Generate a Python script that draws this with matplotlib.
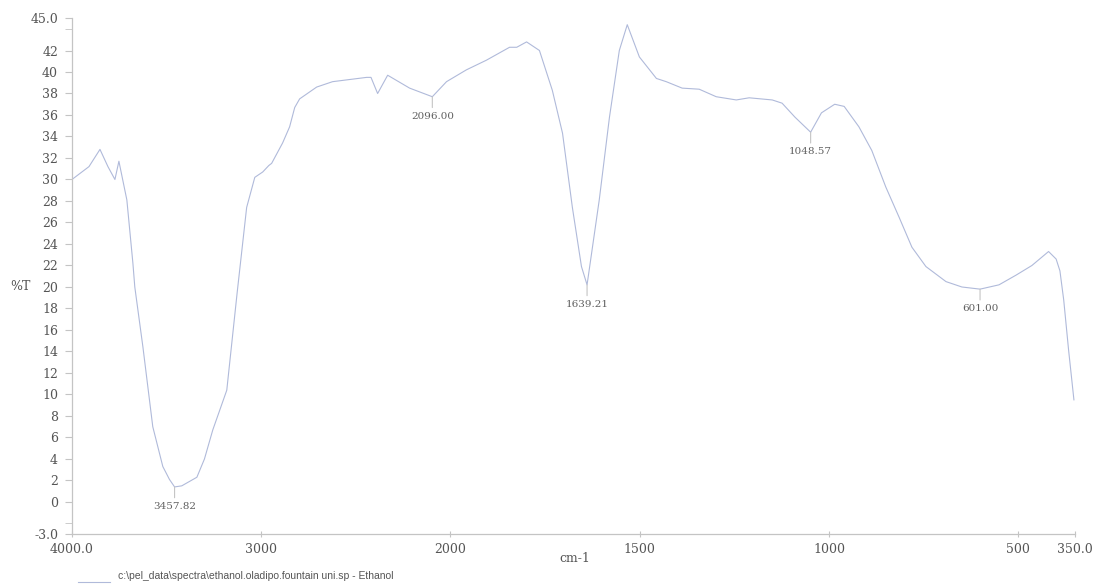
import numpy as np
import matplotlib
matplotlib.use("Agg")
import matplotlib.pyplot as plt
from matplotlib.lines import Line2D
from matplotlib.ticker import FixedLocator

# ---- data ----
wavenumber = [4000, 3910, 3852, 3810, 3773, 3752, 3710, 3678, 3668, 3625,
              3573, 3520, 3485, 3457.82, 3420, 3380, 3340, 3300, 3256, 3182,
              3127, 3077, 3034,
              2992, 2960, 2945, 2887, 2850, 2823, 2797, 2707, 2623, 2443,
              2420, 2385, 2332, 2216, 2096, 2021, 1958, 1905, 1844, 1825,
              1799, 1765, 1731, 1704, 1678, 1654, 1639.21, 1607, 1580, 1554,
              1533, 1501, 1456, 1430, 1388, 1343, 1298, 1245, 1211, 1150,
              1124, 1090, 1048.57, 1020, 985, 960, 921, 887, 850, 815,
              781, 744, 691, 649, 601, 551, 506, 464, 420, 400,
              390, 380, 367, 353]
transmittance = [30.0, 31.2, 32.8, 31.2, 30.0, 31.7, 28.1, 22.2, 20.0, 14.4,
                 7.0, 3.3, 2.1, 1.4, 1.5, 1.9, 2.3, 4.0, 6.7, 10.4,
                 19.5, 27.4, 30.2,
                 30.7, 31.3, 31.5, 33.4, 34.9, 36.7, 37.5, 38.6, 39.1, 39.5,
                 39.5, 38.0, 39.7, 38.5, 37.7, 39.1, 40.2, 41.1, 42.3, 42.3,
                 42.8, 42.0, 38.3, 34.3, 27.4, 21.9, 20.2, 28.1, 35.8, 42.0,
                 44.4, 41.4, 39.4, 39.1, 38.5, 38.4, 37.7, 37.4, 37.6, 37.4,
                 37.1, 35.8, 34.4, 36.2, 37.0, 36.8, 34.9, 32.7, 29.3, 26.5,
                 23.7, 21.9, 20.5, 20.0, 19.8, 20.2, 21.1, 22.0, 23.3, 22.6,
                 21.5, 18.8, 14.1, 9.5]

peak_positions = [3457.82, 2096.00, 1639.21, 1048.57, 601.00]
peak_values = [1.4, 37.7, 20.2, 34.4, 19.8]
peak_labels = ["3457.82", "2096.00", "1639.21", "1048.57", "601.00"]

x_ticks = [4000, 3000, 2000, 1500, 1000, 500, 350]
x_tick_labels = ["4000.0", "3000", "2000", "1500", "1000", "500", "350.0"]
y_ticks = [45, 42, 40, 38, 36, 34, 32, 30, 28, 26, 24, 22, 20, 18, 16, 14,
           12, 10, 8, 6, 4, 2, 0, -3]
y_tick_labels = ["45.0", "42", "40", "38", "36", "34", "32", "30", "28", "26",
                 "24", "22", "20", "18", "16", "14", "12", "10", "8", "6",
                 "4", "2", "0", "-3.0"]
y_minor_ticks = [44, -2]

footer = r"c:\pel_data\spectra\ethanol.oladipo.fountain uni.sp - Ethanol"

# ---- style ----
curve_color = "#b0bada"
axis_color = "#c4c4c4"
text_color = "#555555"
serif = "DejaVu Serif"


def fwd(x):
    x = np.asarray(x, dtype=float)
    return np.where(x >= 2000, x, 2.0 * x - 2000.0)


def inv(y):
    y = np.asarray(y, dtype=float)
    return np.where(y >= 2000, y, (y + 2000.0) / 2.0)


fig = plt.figure(figsize=(10.97, 5.85), dpi=100)
ax = fig.add_axes([0.0656, 0.0868, 0.9144, 0.882])
ax.set_xscale("function", functions=(fwd, inv))
ax.plot(wavenumber, transmittance, color=curve_color, lw=0.8)
ax.set_xlim(4000, 350)
ax.set_ylim(-3, 45)

for s in ["top", "right"]:
    ax.spines[s].set_visible(False)
for s in ["left", "bottom"]:
    ax.spines[s].set_color(axis_color)
    ax.spines[s].set_linewidth(0.9)

ax.xaxis.set_major_locator(FixedLocator(x_ticks))
ax.set_xticklabels(x_tick_labels, fontfamily=serif, fontsize=9, color=text_color)
ax.xaxis.set_minor_locator(FixedLocator([]))
ax.tick_params(axis="x", which="major", direction="inout", length=5,
               color=axis_color, pad=4)

ax.yaxis.set_major_locator(FixedLocator(y_ticks))
ax.set_yticklabels(y_tick_labels, fontfamily=serif, fontsize=9, color=text_color)
ax.yaxis.set_minor_locator(FixedLocator(y_minor_ticks))
ax.tick_params(axis="y", which="major", direction="out", length=5,
               color=axis_color, pad=5)
ax.tick_params(axis="y", which="minor", direction="out", length=5,
               color=axis_color)

for px, pv, lab in zip(peak_positions, peak_values, peak_labels):
    ax.annotate(lab, xy=(px, pv), xytext=(0, -15), textcoords="offset pixels",
                ha="center", va="top", fontfamily=serif, fontsize=7.5,
                color="#606060",
                arrowprops=dict(arrowstyle="-", color=axis_color, lw=0.8,
                                shrinkA=1, shrinkB=0))

fig.text(0.009, 1 - 287 / 585, "%T", fontfamily=serif, fontsize=9,
         color=text_color, va="center", ha="left")
fig.text(575 / 1097, 1 - 559 / 585, "cm-1", fontfamily=serif, fontsize=9,
         color=text_color, va="center", ha="center")
fig.text(118 / 1097, 1 - 576 / 585, footer, fontfamily="Liberation Sans",
         fontsize=7.5, color="#555555", va="center", ha="left")
fig.add_artist(Line2D([78 / 1097, 110 / 1097], [1 - 582 / 585, 1 - 582 / 585],
                      color=curve_color, lw=0.8, transform=fig.transFigure))

fig.savefig("out.png", dpi=100, facecolor="white")
